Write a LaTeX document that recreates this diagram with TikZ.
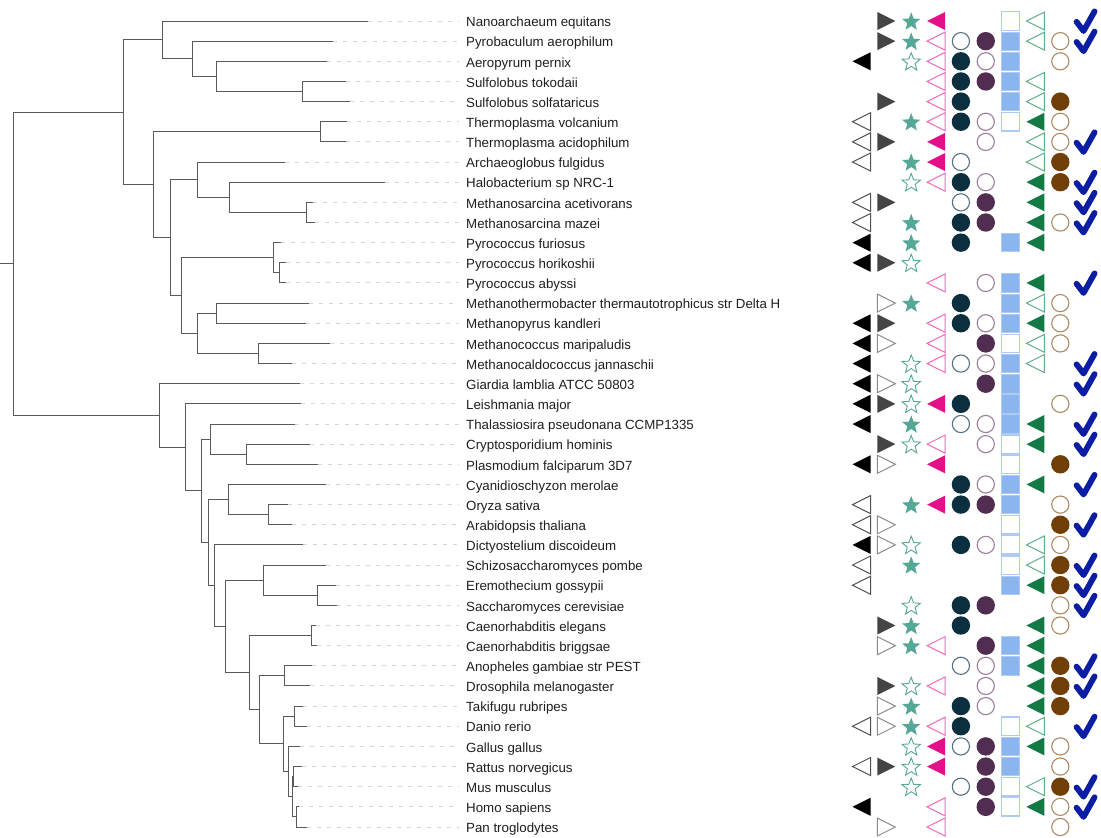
\documentclass[tikz,border=0pt]{standalone}
\usepackage{fontspec}
\setmainfont{Liberation Sans}
\definecolor{k1}{HTML}{000000}
\definecolor{k1o}{HTML}{505050}
\definecolor{k2}{HTML}{454545}
\definecolor{k2o}{HTML}{8C8C8C}
\definecolor{k3}{HTML}{55A896}
\definecolor{k4}{HTML}{E4108A}
\definecolor{k4o}{HTML}{F06CB8}
\definecolor{k5}{HTML}{0C2F3F}
\definecolor{k5o}{HTML}{557080}
\definecolor{k6}{HTML}{522D52}
\definecolor{k6o}{HTML}{9C7F9C}
\definecolor{k7}{HTML}{8AB5EF}
\definecolor{k7o}{HTML}{AFCBF5}
\definecolor{k8}{HTML}{137A45}
\definecolor{k8o}{HTML}{64AE87}
\definecolor{k9}{HTML}{6F3F07}
\definecolor{k9o}{HTML}{AC8A64}
\definecolor{k10}{HTML}{0B1EA3}
\definecolor{brc}{HTML}{5A5A5A}
\definecolor{dshc}{HTML}{D6D6D6}
% shape helpers
\newcommand\shLtri[3]{\path[#3] (#1,#2) +(-9,0) -- +(9,-9) -- +(9,9) -- cycle;}
\newcommand\shRtri[3]{\path[#3] (#1,#2) +(9,0) -- +(-9,-9) -- +(-9,9) -- cycle;}
\newcommand\shCirc[3]{\path[#3] (#1,#2) circle[radius=9.2pt];}
\newcommand\shCircO[3]{\path[#3] (#1,#2) circle[radius=8.6pt];}
\newcommand\shSq[3]{\path[#3] (#1,#2) +(-9.2,-9.2) rectangle +(9.2,9.2);}
\newcommand\shStar[3]{\path[#3] (#1,#2+0.9) +(-90:9.6) -- +(-54:4.1) -- +(-18:9.6) -- +(18:4.1) -- +(54:9.6) -- +(90:4.1) -- +(126:9.6) -- +(162:4.1) -- +(198:9.6) -- +(234:4.1) -- cycle;}
\newcommand\shChk[2]{\path[chk] (#1,#2) +(-8.6,0.8) -- +(-1.6,10) -- +(9.4,-9.6);}
\newcommand\symFi[2]{\shLtri{#1}{#2}{c1F}}
\newcommand\symOi[2]{\shLtri{#1}{#2}{c1O}}
\newcommand\symFii[2]{\shRtri{#1}{#2}{c2F}}
\newcommand\symOii[2]{\shRtri{#1}{#2}{c2O}}
\newcommand\symFiii[2]{\shStar{#1}{#2}{c3F}}
\newcommand\symOiii[2]{\shStar{#1}{#2}{c3O}}
\newcommand\symFiv[2]{\shLtri{#1}{#2}{c4F}}
\newcommand\symOiv[2]{\shLtri{#1}{#2}{c4O}}
\newcommand\symFv[2]{\shCirc{#1}{#2}{c5F}}
\newcommand\symOv[2]{\shCircO{#1}{#2}{c5O}}
\newcommand\symFvi[2]{\shCirc{#1}{#2}{c6F}}
\newcommand\symOvi[2]{\shCircO{#1}{#2}{c6O}}
\newcommand\symFvii[2]{\shSq{#1}{#2}{c7F}}
\newcommand\symOvii[2]{\shSq{#1}{#2}{c7O}}
\newcommand\symFviii[2]{\shLtri{#1}{#2}{c8F}}
\newcommand\symOviii[2]{\shLtri{#1}{#2}{c8O}}
\newcommand\symFix[2]{\shCirc{#1}{#2}{c9F}}
\newcommand\symOix[2]{\shCircO{#1}{#2}{c9O}}
\newcommand\drawsym[4]{%
  \if#2F\csname symF\romannumeral#1\endcsname{#3}{#4}\fi
  \if#2O\csname symO\romannumeral#1\endcsname{#3}{#4}\fi
  \if#2C\shChk{#3}{#4}\fi}
\begin{document}
\begin{tikzpicture}[x=1pt,y=-1pt,
  br/.style={draw=brc,line width=1pt},
  dsh/.style={draw=dshc,line width=1pt,dash pattern=on 4pt off 6pt},
  lab/.style={anchor=base west,inner sep=0pt,text=black!88,font=\fontsize{13.3}{15}\selectfont},
  c1F/.style={fill=k1}, c1O/.style={draw=k1o,fill=white,line width=1pt},
  c2F/.style={fill=k2}, c2O/.style={draw=k2o,fill=white,line width=1pt},
  c3F/.style={fill=k3}, c3O/.style={draw=k3,fill=white,line width=0.9pt},
  c4F/.style={fill=k4}, c4O/.style={draw=k4o,fill=white,line width=1pt},
  c5F/.style={fill=k5}, c5O/.style={draw=k5o,fill=white,line width=1.1pt},
  c6F/.style={fill=k6}, c6O/.style={draw=k6o,fill=white,line width=1.1pt},
  c7F/.style={fill=k7,draw=k7o,line width=0.8pt}, c7O/.style={draw=k7o,fill=white,line width=1.3pt},
  c8F/.style={fill=k8}, c8O/.style={draw=k8o,fill=white,line width=1pt},
  c9F/.style={fill=k9}, c9O/.style={draw=k9o,fill=white,line width=1.1pt},
  chk/.style={draw=k10,line width=5.8pt,line cap=round,line join=round}]
\fill[white] (0,0) rectangle (1101,838);
\useasboundingbox (0,0) rectangle (1101,838);
% leaves
\foreach \i/\tx/\name in {
 0/368/Nanoarchaeum equitans,
 1/333/Pyrobaculum aerophilum,
 2/327/Aeropyrum pernix,
 3/346/Sulfolobus tokodaii,
 4/350/Sulfolobus solfataricus,
 5/347/Thermoplasma volcanium,
 6/346/Thermoplasma acidophilum,
 7/285/Archaeoglobus fulgidus,
 8/385/Halobacterium sp NRC-1,
 9/313/Methanosarcina acetivorans,
 10/315/Methanosarcina mazei,
 11/281/Pyrococcus furiosus,
 12/286/Pyrococcus horikoshii,
 13/286/Pyrococcus abyssi,
 14/309/Methanothermobacter thermautotrophicus str Delta H,
 15/306/Methanopyrus kandleri,
 16/330/Methanococcus maripaludis,
 17/292/Methanocaldococcus jannaschii,
 18/300/Giardia lamblia ATCC 50803,
 19/301/Leishmania major,
 20/295/Thalassiosira pseudonana CCMP1335,
 21/310/Cryptosporidium hominis,
 22/318/Plasmodium falciparum 3D7,
 23/326/Cyanidioschyzon merolae,
 24/288/Oryza sativa,
 25/292/Arabidopsis thaliana,
 26/302.7/Dictyostelium discoideum,
 27/326/Schizosaccharomyces pombe,
 28/336/Eremothecium gossypii,
 29/337/Saccharomyces cerevisiae,
 30/316/Caenorhabditis elegans,
 31/317/Caenorhabditis briggsae,
 32/312/Anopheles gambiae str PEST,
 33/310/Drosophila melanogaster,
 34/302.7/Takifugu rubripes,
 35/307.3/Danio rerio,
 36/300/Gallus gallus,
 37/301.7/Rattus norvegicus,
 38/297.7/Mus musculus,
 39/299.3/Homo sapiens,
 40/306.7/Pan troglodytes}{
  \pgfmathsetmacro\yy{21+20.15*\i}
  \coordinate (tip\i) at (\tx,\yy);
  \coordinate (d\i) at (459,\yy);
  \draw[dsh] (tip\i) -- (d\i);
  \node[lab] (t\i) at (466,\yy+5.7) {\name};
}
% internal nodes
\coordinate (R0) at (0,263.9);
\coordinate (R) at (13.7,263.9);
\coordinate (Ar) at (123.7,112.3);
\coordinate (N) at (162,39.89);
\coordinate (P) at (192.7,58.78);
\coordinate (A) at (216.7,76.41);
\coordinate (S) at (302,91.525);
\coordinate (Eu) at (153.3,184.72);
\coordinate (Tp) at (320.7,131.825);
\coordinate (E1) at (170.7,237.61);
\coordinate (Ag) at (197,179.68);
\coordinate (Hb) at (229.3,197.31);
\coordinate (Ms) at (306.7,212.425);
\coordinate (Pm) at (181.7,295.54);
\coordinate (Py) at (273.7,257.76);
\coordinate (Ph) at (279,272.875);
\coordinate (Mg) at (197.7,333.325);
\coordinate (Mt) at (216.3,313.175);
\coordinate (Mc) at (258,353.475);
\coordinate (Gi) at (159.7,415.53);
\coordinate (Lm) at (185,447.36);
\coordinate (Sa) at (201.7,490.86);
\coordinate (Th) at (210,439.11);
\coordinate (Cp) at (246.3,454.225);
\coordinate (Ap) at (208,542.61);
\coordinate (Pl) at (228.3,499.56);
\coordinate (Or) at (268.3,514.675);
\coordinate (Dd) at (214.3,585.67);
\coordinate (Op) at (225,626.44);
\coordinate (Fu) at (263.7,580.16);
\coordinate (Sc) at (317.3,595.275);
\coordinate (An) at (249.7,672.73);
\coordinate (Ce) at (311.3,635.575);
\coordinate (Bi) at (259.3,709.88);
\coordinate (In) at (284.3,675.875);
\coordinate (Ve) at (283.3,743.88);
\coordinate (Fi) at (294.7,716.175);
\coordinate (Am) at (288.3,771.59);
\coordinate (Mm) at (292.3,796.775);
\coordinate (Ro) at (293.3,776.625);
\coordinate (Pr) at (296.7,816.925);
\draw[br] (R0) -- (R);
\foreach \p/\c in {R/Ar,R/Gi,Ar/N,Ar/Eu,N/tip0,N/P,P/tip1,P/A,A/tip2,A/S,S/tip3,S/tip4,
 Eu/Tp,Eu/E1,Tp/tip5,Tp/tip6,E1/Ag,E1/Pm,Ag/tip7,Ag/Hb,Hb/tip8,Hb/Ms,Ms/tip9,Ms/tip10,
 Pm/Py,Pm/Mg,Py/tip11,Py/Ph,Ph/tip12,Ph/tip13,Mg/Mt,Mg/Mc,Mt/tip14,Mt/tip15,Mc/tip16,Mc/tip17,
 Gi/tip18,Gi/Lm,Lm/tip19,Lm/Sa,Sa/Th,Sa/Ap,Th/tip20,Th/Cp,Cp/tip21,Cp/tip22,
 Ap/Pl,Ap/Dd,Pl/tip23,Pl/Or,Or/tip24,Or/tip25,Dd/tip26,Dd/Op,Op/Fu,Op/An,
 Fu/tip27,Fu/Sc,Sc/tip28,Sc/tip29,An/Ce,An/Bi,Ce/tip30,Ce/tip31,Bi/In,Bi/Ve,
 In/tip32,In/tip33,Ve/Fi,Ve/Am,Fi/tip34,Fi/tip35,Am/tip36,Am/Mm,Mm/Ro,Mm/Pr,
 Ro/tip37,Ro/tip38,Pr/tip39,Pr/tip40}{
  \draw[br] (\p) |- (\c);
}
% symbol matrix
\foreach \i/\codes in {
 0/{-,F,F,F,-,-,O,O,-,C},
 1/{-,F,F,O,O,F,F,O,O,C},
 2/{F,-,O,O,F,O,F,-,O,-},
 3/{-,-,-,O,F,F,F,O,-,-},
 4/{-,F,-,O,F,-,F,O,F,-},
 5/{O,-,F,O,F,O,O,F,O,-},
 6/{O,F,-,F,-,O,-,O,O,C},
 7/{O,-,F,F,O,-,-,O,F,-},
 8/{-,-,O,O,F,O,-,F,F,C},
 9/{O,F,-,-,O,F,-,F,-,C},
 10/{O,-,F,-,F,F,-,F,O,C},
 11/{F,-,F,-,F,-,F,F,-,-},
 12/{F,F,O,-,-,-,-,-,-,-},
 13/{-,-,-,O,-,O,F,F,-,C},
 14/{-,O,F,-,F,-,F,O,O,-},
 15/{F,F,-,O,F,O,F,F,O,-},
 16/{F,O,-,O,-,F,O,O,O,-},
 17/{F,-,O,O,O,O,F,O,-,C},
 18/{F,O,O,-,-,F,F,-,-,C},
 19/{F,F,O,F,F,-,F,-,O,-},
 20/{F,-,F,-,O,O,F,F,-,C},
 21/{-,F,O,O,-,O,O,F,-,C},
 22/{F,O,-,F,-,-,O,-,F,-},
 23/{-,-,-,-,F,O,F,F,-,C},
 24/{O,-,F,F,F,F,F,-,O,-},
 25/{O,O,-,-,-,-,O,-,F,C},
 26/{F,O,O,-,F,O,O,O,O,-},
 27/{O,-,F,-,-,-,O,O,F,C},
 28/{O,-,-,-,-,-,F,F,F,C},
 29/{-,-,O,-,F,F,-,-,O,C},
 30/{-,F,F,-,F,-,-,F,O,-},
 31/{-,O,F,O,-,F,F,F,-,-},
 32/{-,-,-,-,O,O,F,F,F,C},
 33/{-,F,O,O,-,O,-,F,F,C},
 34/{-,O,F,-,F,O,-,F,F,-},
 35/{O,O,F,O,F,-,O,O,-,C},
 36/{-,-,O,F,O,F,F,F,O,-},
 37/{O,F,O,F,-,F,F,-,O,-},
 38/{-,-,O,-,O,F,O,O,F,C},
 39/{F,-,-,O,-,F,O,F,O,C},
 40/{-,O,-,O,-,-,-,-,O,-}}{
  \pgfmathsetmacro\yy{21+20.15*\i}
  \foreach \v [count=\k] in \codes {
    \pgfmathsetmacro\xx{861.5+24.85*(\k-1)}
    \drawsym{\k}{\v}{\xx}{\yy}
  }
}
\end{tikzpicture}
\end{document}
